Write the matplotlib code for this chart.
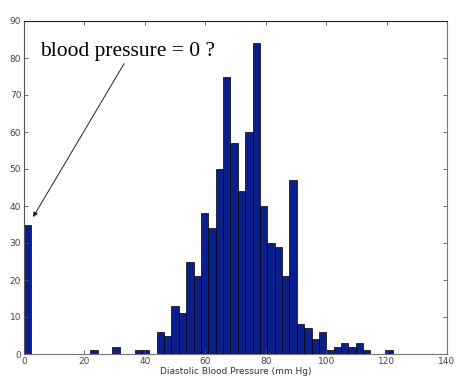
import numpy as np
import matplotlib
matplotlib.use("Agg")
import matplotlib.pyplot as plt

# Histogram of diastolic blood pressure (50 bins from 0 to 122 mm Hg)
bin_min = 0.0
bin_max = 122.0
n_bins = 50
counts = [35, 0, 0, 0, 0, 0, 0, 0, 0, 1,
          0, 0, 2, 0, 0, 1, 1, 0, 6, 5,
          13, 11, 25, 21, 38, 34, 50, 75, 57, 44,
          60, 84, 40, 30, 29, 21, 47, 8, 7, 4,
          6, 1, 2, 3, 2, 3, 1, 0, 0, 1]
x_ticks = [0, 20, 40, 60, 80, 100, 120, 140]
y_ticks = [0, 10, 20, 30, 40, 50, 60, 70, 80, 90]
x_label = "Diastolic Blood Pressure (mm Hg)"
note = "blood pressure = 0 ?"

edges = np.linspace(bin_min, bin_max, n_bins + 1)
width = edges[1] - edges[0]

fig = plt.figure(figsize=(4.65, 3.81), dpi=100)
ax = fig.add_axes([24/465, 27/381, 423/465, 333/381])

ax.bar(edges[:-1], counts, width=width, align='edge',
       color='#0a1e8c', edgecolor='#000000', linewidth=0.5)

ax.set_xlim(0, 140)
ax.set_ylim(0, 90)
ax.set_xticks(x_ticks)
ax.set_yticks(y_ticks)
ax.tick_params(direction='in', length=3, width=0.6, labelsize=6.5,
               labelcolor='#444444', color='#555555',
               top=True, right=True, pad=2)
for side in ['top', 'right', 'bottom', 'left']:
    ax.spines[side].set_linewidth(0.8)
ax.spines['top'].set_color('#222222')
ax.spines['left'].set_color('#555555')
ax.spines['right'].set_color('#777777')
ax.spines['bottom'].set_color('#777777')

ax.set_xlabel(x_label, fontsize=6.5, color='#333333', labelpad=1)

ax.annotate(note, xy=(3.0, 37.0), xytext=(5.3, 81.8),
            fontsize=15.5, family='Liberation Serif', color='black',
            va='center', ha='left',
            arrowprops=dict(arrowstyle='-|>', color='#222222', lw=0.7,
                            shrinkA=0, shrinkB=0, mutation_scale=7,
                            relpos=(0.49, 0.0)))

fig.savefig("out.png", dpi=100)
